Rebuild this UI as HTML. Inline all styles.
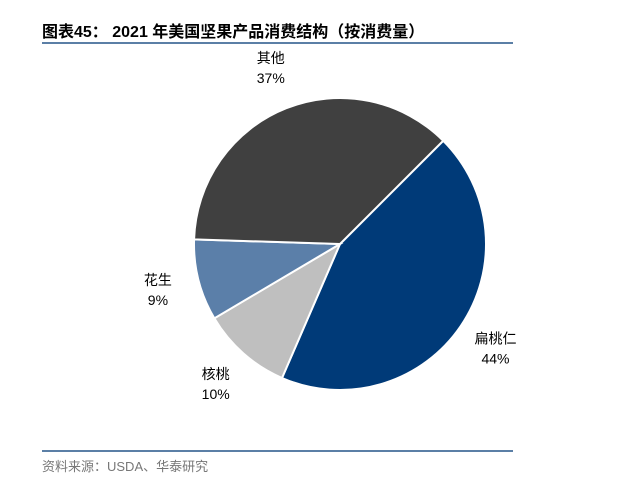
<!DOCTYPE html>
<html><head><meta charset="utf-8"><style>
body{margin:0;background:#fff;width:642px;height:494px;overflow:hidden;font-family:"Liberation Sans","Noto Sans CJK SC",sans-serif;}
.t{position:absolute;left:42px;top:18px;font-size:16px;font-weight:bold;color:#000;white-space:nowrap;}
.l{position:absolute;left:42px;width:471px;height:2px;background:#5b7fa6;}
.s{position:absolute;left:42px;top:456px;font-size:13px;color:#777;white-space:nowrap;}
</style></head><body>
<div class="t">图表45：&nbsp;2021 年美国坚果产品消费结构（按消费量）</div>
<div class="l" style="top:42px"></div>
<div class="l" style="top:450px"></div>
<div class="s">资料来源：USDA、华泰研究</div>
<svg id="c" width="642" height="494" style="position:absolute;left:0;top:0"></svg>
<script>
const categories=["扁桃仁","核桃","花生","其他"];
const values=[44,10,9,37];
const colors=["#003a78","#bfbfbf","#5b7fa9","#404040"];
const startDeg=45;
const cx=340,cy=244,r=146;
const svg=document.getElementById('c');
const NS="http://www.w3.org/2000/svg";
const total=values.reduce((a,b)=>a+b,0);
function pt(deg,rad){const a=deg*Math.PI/180;return [cx+rad*Math.sin(a),cy-rad*Math.cos(a)];}
let ang=startDeg;
values.forEach((v,i)=>{
  const sweep=v/total*360,a0=ang,a1=ang+sweep;ang=a1;
  const p0=pt(a0,r),p1=pt(a1,r);
  const path=document.createElementNS(NS,'path');
  path.setAttribute('d',`M${cx},${cy}L${p0[0]},${p0[1]}A${r},${r} 0 ${sweep>180?1:0} 1 ${p1[0]},${p1[1]}Z`);
  path.setAttribute('fill',colors[i]);path.setAttribute('stroke','#fff');path.setAttribute('stroke-width','2');
  
  
  svg.appendChild(path);
  const mid=(a0+a1)/2;const lp=pt(mid,r+42);
  [categories[i],v+'%'].forEach((txt,j)=>{
    const t=document.createElementNS(NS,'text');
    t.setAttribute('x',lp[0]);t.setAttribute('y',lp[1]+(j?14:-6));
    t.setAttribute('text-anchor','middle');t.setAttribute('font-size','14');t.setAttribute('fill','#000');
    t.textContent=txt;
    
    
    svg.appendChild(t);
  });
});
</script>
</body></html>
